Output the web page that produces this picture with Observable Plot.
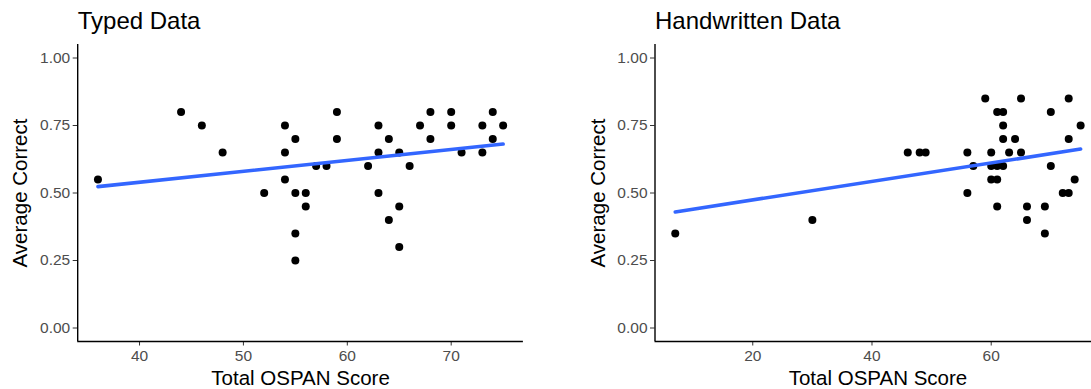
<!DOCTYPE html>
<html>
<head>
<meta charset="utf-8">
<script src="https://cdn.jsdelivr.net/npm/d3@7"></script>
<script src="https://cdn.jsdelivr.net/npm/@observablehq/plot@0.6"></script>
<style>
  html, body { margin: 0; padding: 0; background: #fff; }
  #wrap { position: relative; width: 1091px; height: 389px; overflow: hidden; background: #fff; }
  #left, #right { position: absolute; top: 0; }
  #left { left: 0; width: 545px; }
  #right { left: 545px; width: 556px; }
  #wrap svg { display: block; max-width: none !important; height: 389px !important; }
</style>
</head>
<body>
<div id="wrap"><div id="left"></div><div id="right"></div></div>
<script>
// Typed data
const typedScore   = [36,44,46,48,52,54,54,54,55,55,55,55,56,56,57,58,59,59,62,63,63,63,64,64,65,65,65,66,67,68,68,70,70,71,73,73,74,74,75];
const typedCorrect = [0.55,0.80,0.75,0.65,0.50,0.75,0.65,0.55,0.70,0.50,0.35,0.25,0.50,0.45,0.60,0.60,0.80,0.70,0.60,0.75,0.65,0.50,0.70,0.40,0.65,0.45,0.30,0.60,0.75,0.80,0.70,0.80,0.75,0.65,0.75,0.65,0.80,0.70,0.75];
// Handwritten data
const handScore   = [7,30,46,48,49,56,56,57,59,60,60,60,61,61,61,61,62,62,62,62,63,64,65,65,66,66,69,69,70,70,72,73,73,73,74,75];
const handCorrect = [0.35,0.40,0.65,0.65,0.65,0.65,0.50,0.60,0.85,0.65,0.60,0.55,0.80,0.60,0.55,0.45,0.80,0.75,0.70,0.60,0.65,0.70,0.85,0.65,0.45,0.40,0.45,0.35,0.80,0.60,0.50,0.85,0.70,0.50,0.55,0.75];

const titles = ["Typed Data", "Handwritten Data"];
const xTitle = "Total OSPAN Score";
const yTitle = "Average Correct";
const yTicks = [0, 0.25, 0.5, 0.75, 1];
const typedXTicks = [40, 50, 60, 70];
const handXTicks = [20, 40, 60];

const FONT = "'Liberation Sans', Arial, Helvetica, sans-serif";

function panel({score, correct, title, xTicks, xDomain, width, marginLeft, marginRight}) {
  const data = score.map((s, i) => ({score: s, correct: correct[i]}));
  return Plot.plot({
    width, height: 389,
    marginLeft, marginRight, marginTop: 44, marginBottom: 48,
    style: {fontFamily: FONT, fontSize: "15.5px", background: "#fff", color: "#000"},
    x: {domain: xDomain, ticks: xTicks},
    y: {domain: [-0.05, 1.05], ticks: yTicks},
    marks: [
      Plot.axisX({ticks: xTicks, tickSize: 4.5, tickPadding: 4, fontSize: 15.5, color: "#4D4D4D", stroke: "#333", label: null}),
      Plot.axisY({ticks: yTicks, tickSize: 4.5, tickPadding: 3, fontSize: 15.5, color: "#4D4D4D", stroke: "#333", tickFormat: d3.format(".2f"), label: null}),
      Plot.ruleX([xDomain[0]], {stroke: "#000", strokeWidth: 1.4}),
      Plot.ruleY([-0.05], {stroke: "#000", strokeWidth: 1.4}),
      Plot.dot(data, {x: "score", y: "correct", r: 4, fill: "#000", stroke: null}),
      Plot.linearRegressionY(data, {x: "score", y: "correct", ci: 0, stroke: "#3366FF", strokeWidth: 3.6}),
      Plot.text([title], {frameAnchor: "top-left", textAnchor: "start", lineAnchor: "middle", dy: -23.5, fontSize: 24, fill: "#000"}),
      Plot.text([xTitle], {frameAnchor: "bottom", textAnchor: "middle", lineAnchor: "middle", dy: 37, fontSize: 20.5, fill: "#000"}),
      Plot.text([yTitle], {frameAnchor: "left", textAnchor: "middle", lineAnchor: "middle", rotate: -90, dx: -57, fontSize: 20.5, fill: "#000"})
    ]
  });
}

document.getElementById("left").appendChild(panel({
  score: typedScore, correct: typedCorrect, title: titles[0],
  xTicks: typedXTicks, xDomain: [34.05, 76.95], width: 545, marginLeft: 77.2, marginRight: 22.1
}));
document.getElementById("right").appendChild(panel({
  score: handScore, correct: handCorrect, title: titles[1],
  xTicks: handXTicks, xDomain: [3.6, 78.4], width: 556, marginLeft: 109.5, marginRight: 0.6
}));
</script>
</body>
</html>
